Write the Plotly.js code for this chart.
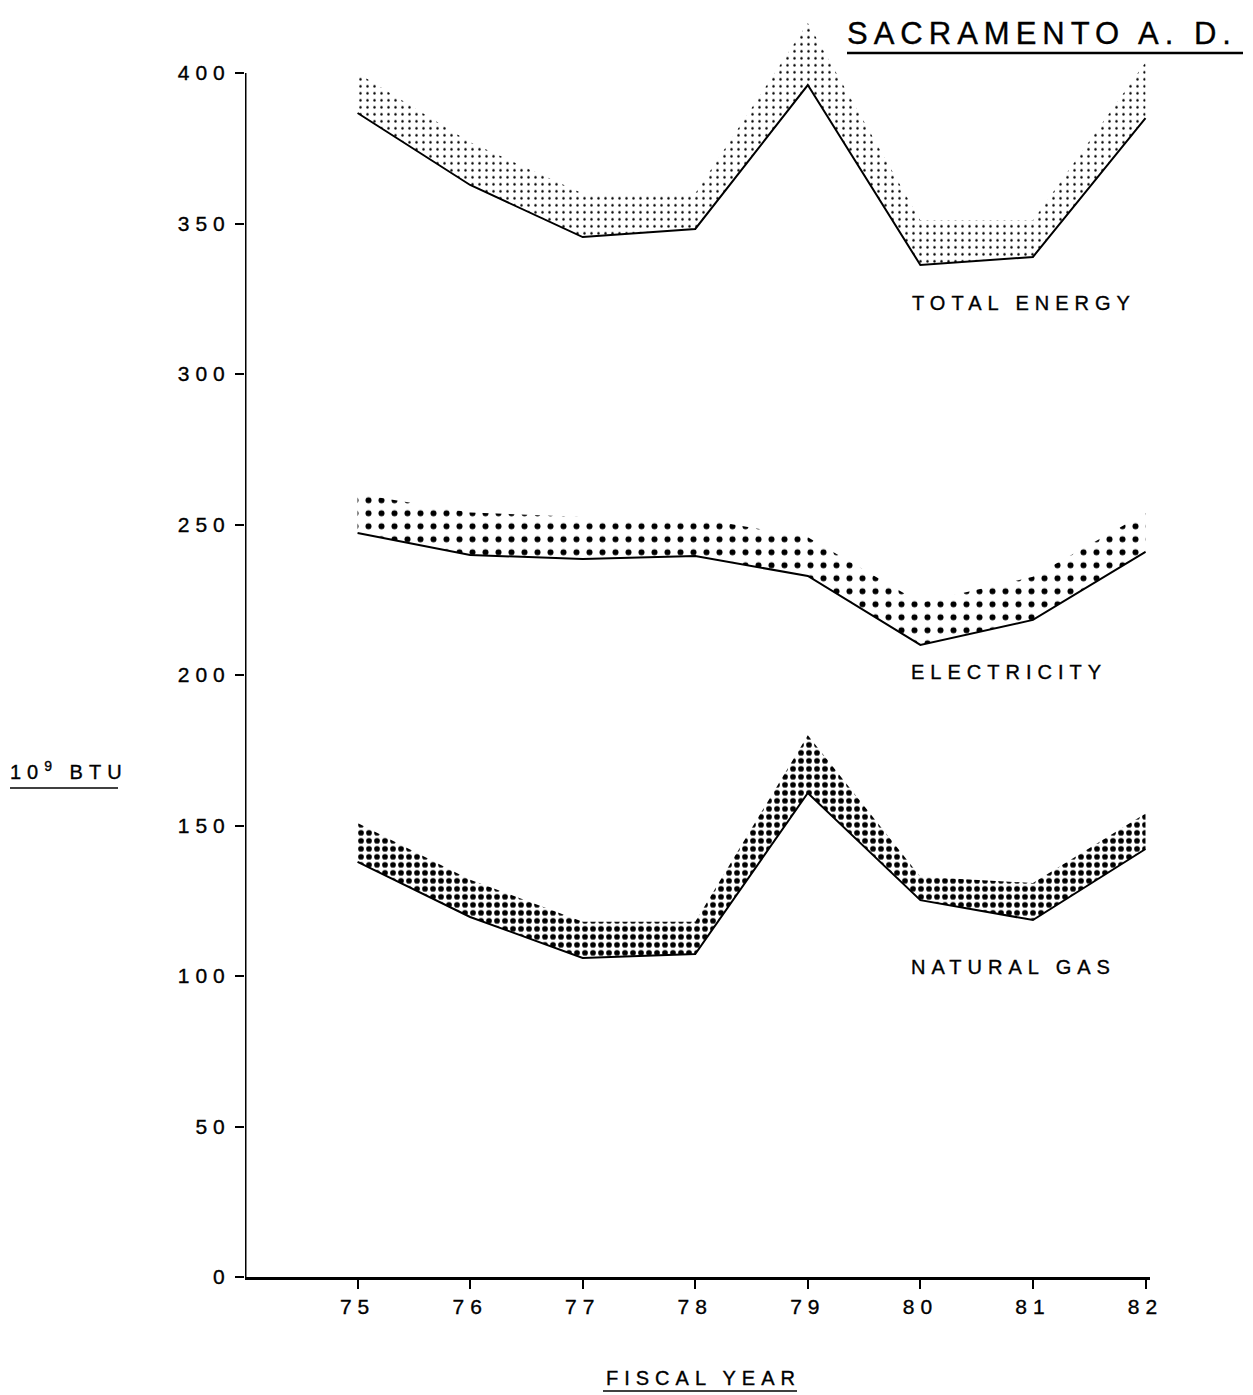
<!DOCTYPE html>
<html>
<head>
<meta charset="utf-8">
<script src="https://cdn.plot.ly/plotly-3.0.1.min.js"></script>
<style>
  html, body { margin: 0; padding: 0; background: #ffffff; }
  #chart { width: 1253px; height: 1395px; }
  text { letter-spacing: 6px; stroke: #000; stroke-width: 0.35px; }
</style>
</head>
<body>
<div id="chart"></div>
<script>
// ---- data ----
const years = [75, 76, 77, 78, 79, 80, 81, 82];
const yearLabels = ['75', '76', '77', '78', '79', '80', '81', '82'];
const yTicks = [0, 50, 100, 150, 200, 250, 300, 350, 400];

const totalLower = [386.7, 362.8, 345.5, 348.2, 396.0, 336.2, 338.9, 385.0];
const totalUpper = [400.0, 377.0, 360.0, 360.0, 416.6, 351.0, 351.0, 403.6];

const elecLower = [247.2, 239.9, 238.5, 239.5, 232.9, 210.0, 218.3, 240.9];
const elecUpper = [260.1, 254.0, 252.5, 252.2, 245.8, 224.0, 232.6, 253.8];

const gasLower = [137.9, 119.6, 106.0, 107.3, 160.8, 125.2, 118.6, 142.2];
const gasUpper = [150.8, 132.0, 118.0, 118.0, 180.0, 133.0, 130.9, 154.0];

const seriesLabels = ['TOTAL ENERGY', 'ELECTRICITY', 'NATURAL GAS'];
const chartTitle = 'SACRAMENTO A. D.';
const xTitle = 'FISCAL YEAR';
const yTitle = '10<sup>9</sup> BTU';

// ---- drawing ----
const W = 1253, H = 1395;
const px = v => v / W;
const py = v => 1 - v / H;

function band(lower, upper, pattern) {
  return [
    { x: years, y: lower, type: 'scatter', mode: 'lines',
      line: { color: 'black', width: 2 }, hoverinfo: 'skip' },
    { x: years, y: upper, type: 'scatter', mode: 'lines',
      line: { color: 'rgba(0,0,0,0)', width: 0 }, fill: 'tonexty',
      fillcolor: 'rgba(0,0,0,0)',
      fillpattern: Object.assign({ shape: '.', fgcolor: 'black', bgcolor: 'rgba(0,0,0,0)', fgopacity: 1 }, pattern),
      hoverinfo: 'skip' }
  ];
}

const traces = [].concat(
  band(gasLower, gasUpper, { size: 8, solidity: 0.4 }),
  band(elecLower, elecUpper, { size: 13, solidity: 0.17 }),
  band(totalLower, totalUpper, { size: 7, solidity: 0.1 })
);

const font = { family: 'Liberation Sans, Arial, Helvetica, sans-serif', size: 20, color: 'black' };

const layout = {
  width: W, height: H,
  margin: { l: 0, r: 0, t: 0, b: 0 },
  paper_bgcolor: 'white', plot_bgcolor: 'rgba(0,0,0,0)',
  showlegend: false,
  font: font,
  xaxis: {
    domain: [px(245), px(1150)], range: [74, 82.04],
    tickmode: 'array', tickvals: years, ticktext: yearLabels,
    ticks: 'outside', ticklen: 9, tickwidth: 2, tickcolor: 'black',
    showline: true, linewidth: 3, linecolor: 'black',
    showgrid: false, zeroline: false, fixedrange: true,
    tickfont: Object.assign({}, font, { size: 21 })
  },
  yaxis: {
    domain: [py(1277), py(12.8)], range: [0, 420],
    tickmode: 'array', tickvals: yTicks,
    ticks: 'outside', ticklen: 9, tickwidth: 2, tickcolor: 'black',
    showline: false, showgrid: false, zeroline: false, fixedrange: true,
    tickfont: Object.assign({}, font, { size: 21 })
  },
  shapes: [
    { type: 'line', xref: 'x', yref: 'y', x0: 74, x1: 74, y0: 0, y1: 400,
      line: { color: 'black', width: 3 } },
    { type: 'line', xref: 'paper', yref: 'paper', x0: px(847), x1: px(1243), y0: py(53), y1: py(53),
      line: { color: 'black', width: 2.5 } },
    { type: 'line', xref: 'paper', yref: 'paper', x0: px(10), x1: px(118), y0: py(788), y1: py(788),
      line: { color: 'black', width: 1.5 } },
    { type: 'line', xref: 'paper', yref: 'paper', x0: px(603), x1: px(797), y0: py(1391), y1: py(1391),
      line: { color: 'black', width: 1.5 } }
  ],
  annotations: [
    { text: chartTitle, xref: 'paper', yref: 'paper', x: px(845), y: py(33),
      xanchor: 'left', yanchor: 'middle', showarrow: false,
      font: Object.assign({}, font, { size: 31 }) },
    { text: seriesLabels[0], xref: 'paper', yref: 'paper', x: px(910), y: py(303),
      xanchor: 'left', yanchor: 'middle', showarrow: false, font: font },
    { text: seriesLabels[1], xref: 'paper', yref: 'paper', x: px(909), y: py(672),
      xanchor: 'left', yanchor: 'middle', showarrow: false, font: font },
    { text: seriesLabels[2], xref: 'paper', yref: 'paper', x: px(909), y: py(967),
      xanchor: 'left', yanchor: 'middle', showarrow: false, font: font },
    { text: xTitle, xref: 'paper', yref: 'paper', x: px(703), y: py(1378),
      xanchor: 'center', yanchor: 'middle', showarrow: false, font: font },
    { text: yTitle, xref: 'paper', yref: 'paper', x: px(8), y: py(770),
      xanchor: 'left', yanchor: 'middle', showarrow: false, font: font }
  ]
};

Plotly.newPlot('chart', traces, layout, { staticPlot: true, displayModeBar: false });
</script>
</body>
</html>
